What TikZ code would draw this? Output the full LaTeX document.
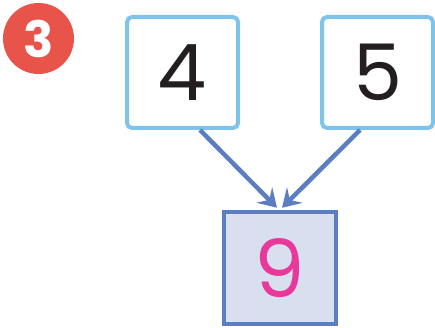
\documentclass[tikz,border=0pt]{standalone}
\usepackage{fontspec}
\setmainfont{Poppins}
\usetikzlibrary{arrows.meta}
\definecolor{badgered}{HTML}{E8534A}
\definecolor{lightblue}{HTML}{7CC4EB}
\definecolor{arrowblue}{HTML}{5B7EC2}
\definecolor{resfill}{HTML}{D8E0EF}
\definecolor{digitink}{HTML}{231F20}
\definecolor{magentaink}{HTML}{E8389A}
\tikzset{
  badge/.style={circle, fill=badgered, minimum size=71pt, inner sep=0pt, text=white,
    font=\fontsize{50}{50}\selectfont\bfseries},
  addend/.style={draw=lightblue, line width=4pt, rounded corners=5pt, fill=white,
    minimum size=111pt, inner sep=0pt, text=digitink, font=\fontsize{78}{78}\selectfont},
  total/.style={draw=arrowblue, line width=4.5pt, fill=resfill,
    minimum size=112pt, inner sep=0pt, text=magentaink, font=\fontsize{80}{80}\selectfont},
  link/.style={draw=arrowblue, line width=4.5pt,
    -{Stealth[length=18pt,width=22pt,inset=7pt]}}
}
\begin{document}
\begin{tikzpicture}[x=1pt,y=-1pt]
\useasboundingbox (0,0) rectangle (435,328);
\node[badge] (b3) at (38.5,38.5) {3};
\node[addend] (b4) at (182.5,72.5) {4};
\node[addend] (b5) at (377.5,72.5) {5};
\node[total] (b9) at (280,268) {9};
\draw[link] ([xshift=17.5pt]b4.south) -- ([xshift=-3pt,yshift=2pt]b9.north);
\draw[link] ([xshift=-17.5pt]b5.south) -- ([xshift=2pt,yshift=2pt]b9.north);
\end{tikzpicture}
\end{document}
